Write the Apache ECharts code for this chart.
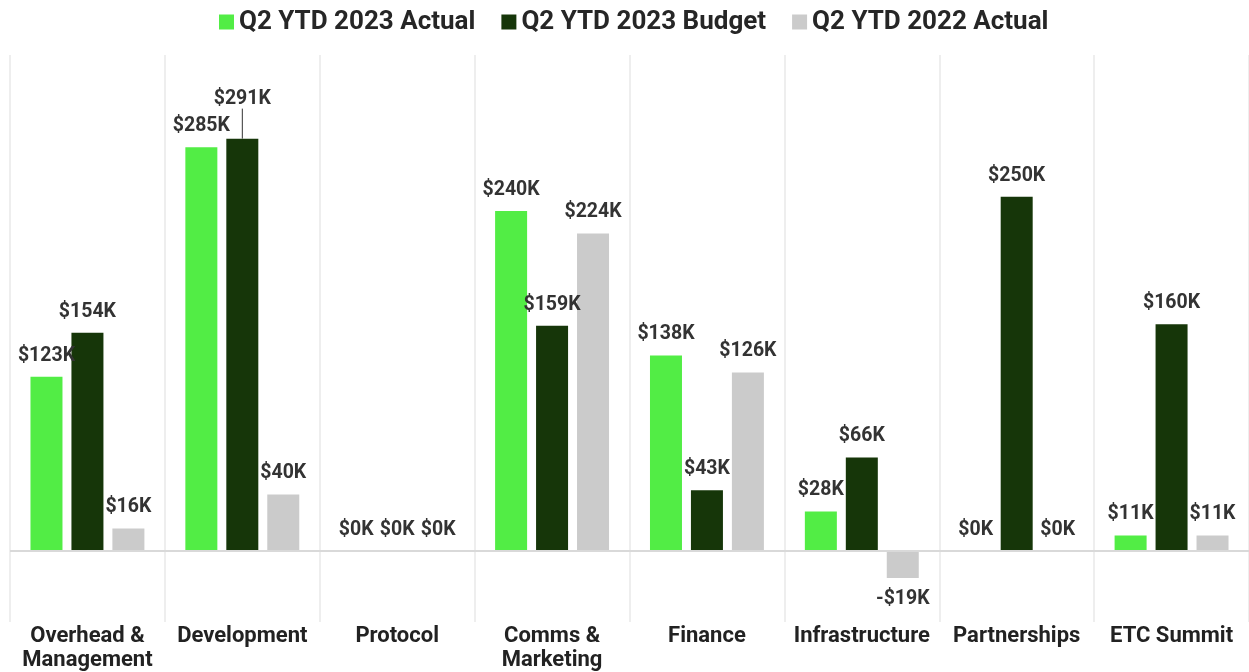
<!DOCTYPE html>
<html style="height: 100%">
<head>
    <meta charset="utf-8">
</head>
<body style="height: 100%; margin: 0; background: #fff">
    <div id="container" style="height: 100%"></div>
    <script type="text/javascript" src="https://cdn.jsdelivr.net/npm/echarts@6/dist/echarts.min.js"></script>
    <script type="text/javascript">
        var categories = ['Overhead &\nManagement', 'Development', 'Protocol', 'Comms &\nMarketing',
            'Finance', 'Infrastructure', 'Partnerships', 'ETC Summit'];
        var seriesNames = ['Q2 YTD 2023 Actual', 'Q2 YTD 2023 Budget', 'Q2 YTD 2022 Actual'];
        var actual2023 = [123, 285, 0, 240, 138, 28, 0, 11];
        var budget2023 = [154, 291, 0, 159, 43, 66, 250, 160];
        var actual2022 = [16, 40, 0, 224, 126, -19, 0, 11];
        var colors = ['#52ed45', '#163609', '#cbcbcb'];

        var dom = document.getElementById('container');
        var myChart = echarts.init(dom);

        function fmt(p) {
            var v = p.value;
            return (v < 0 ? '-$' : '$') + Math.abs(v) + 'K';
        }

        function makeSeries(name, values, color, idx) {
            var data = values.map(function (v, i) {
                var item = { value: v, label: { position: v < 0 ? 'bottom' : 'top' } };
                // budget label for Development was dragged up with a leader line
                if (idx === 1 && i === 1) {
                    item.labelLine = { show: true, lineStyle: { color: '#333', width: 1 } };
                }
                return item;
            });
            var s = {
                name: name,
                type: 'bar',
                data: data,
                barWidth: 32,
                barGap: '28%',
                itemStyle: { color: color },
                label: {
                    show: true,
                    distance: 11,
                    formatter: fmt,
                    fontFamily: 'Roboto',
                    fontWeight: 'bold',
                    fontSize: 19.5,
                    color: '#333'
                },
                labelLine: { show: false }
            };
            if (idx === 1) {
                s.labelLayout = function (params) {
                    if (params.dataIndex === 1) {
                        return { dy: -19 };
                    }
                    return {};
                };
            }
            if (idx === 0) {
                s.markLine = {
                    silent: true,
                    symbol: 'none',
                    label: { show: false },
                    lineStyle: { color: '#d9d9d9', width: 2, type: 'solid' },
                    data: [{ yAxis: 0 }]
                };
            }
            return s;
        }

        var option = {
            animation: false,
            color: colors,
            legend: {
                top: 4,
                left: 214,
                icon: 'rect',
                itemWidth: 15,
                itemHeight: 15,
                itemGap: 26,
                textStyle: {
                    fontFamily: 'Roboto',
                    fontWeight: 'bold',
                    fontSize: 26,
                    color: '#262626'
                },
                data: seriesNames
            },
            grid: {
                left: 10,
                right: -3,
                top: 55,
                bottom: 50,
                containLabel: false
            },
            xAxis: {
                type: 'category',
                data: categories,
                axisLine: { show: false },
                axisTick: { show: false },
                splitLine: {
                    show: true,
                    lineStyle: { color: '#e8e8e8', width: 1.5 }
                },
                axisLabel: {
                    interval: 0,
                    margin: 2,
                    fontFamily: 'Roboto',
                    fontWeight: 'bold',
                    fontSize: 22,
                    lineHeight: 24,
                    color: '#222'
                }
            },
            yAxis: {
                type: 'value',
                min: -50,
                max: 350,
                show: false,
                splitLine: { show: false }
            },
            series: [
                makeSeries(seriesNames[0], actual2023, colors[0], 0),
                makeSeries(seriesNames[1], budget2023, colors[1], 1),
                makeSeries(seriesNames[2], actual2022, colors[2], 2)
            ]
        };

        myChart.setOption(option, true);
    </script>
</body>
</html>
